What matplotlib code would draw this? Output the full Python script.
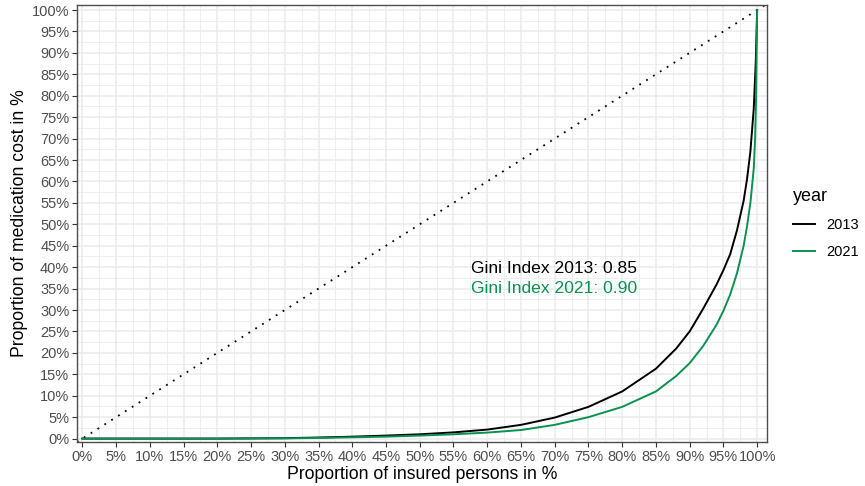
import matplotlib.pyplot as plt
from matplotlib.ticker import MultipleLocator, PercentFormatter

plt.rcParams['font.family'] = ['Liberation Sans', 'DejaVu Sans']

# Lorenz curves (% of insured persons vs % of cost)
share_2013 = [0, 10, 20, 30, 35, 40, 45, 50, 55, 60, 65, 70, 75, 80, 85, 88, 90,
              92, 94, 95, 96, 97, 98, 98.5, 99, 99.5, 99.8, 100]
cost_2013 = [0, 0, 0, 0.1, 0.25, 0.45, 0.7, 1.0, 1.45, 2.1, 3.2, 4.9, 7.4, 11.0, 16.3,
             21.0, 25.0, 30.3, 36.0, 39.3, 43.0, 48.5, 55.5, 60.5, 67.0, 77.0, 88.0, 100]

share_2021 = [0, 10, 20, 30, 35, 40, 45, 50, 55, 60, 65, 70, 75, 80, 85, 88, 90,
              92, 94, 95, 96, 97, 98, 98.5, 99, 99.5, 99.7, 99.85, 100]
cost_2021 = [0, 0, 0, 0.05, 0.15, 0.3, 0.45, 0.7, 1.0, 1.4, 2.0, 3.2, 5.0, 7.4, 11.0,
             14.6, 17.6, 21.6, 26.6, 29.8, 33.6, 38.5, 45.0, 49.5, 55.0, 63.0, 70.0,
             80.0, 100]

gini = {'2013': 0.85, '2021': 0.90}
green = '#0A9150'

fig = plt.figure(figsize=(8.65, 4.86), dpi=100)
ax = fig.add_axes([0.089, 0.0905, 0.798, 0.8995])

ax.axline((0, 0), slope=1, color='black', linestyle=(0, (1, 3.5)), linewidth=1.3)
ax.plot(share_2013, cost_2013, color='black', linewidth=1.4, label='2013')
ax.plot(share_2021, cost_2021, color=green, linewidth=1.4, label='2021')

ax.text(57.6, 39.7, f"Gini Index 2013: {gini['2013']:.2f}", color='black',
        fontsize=12.6, va='center', ha='left')
ax.text(57.6, 35.0, f"Gini Index 2021: {gini['2021']:.2f}", color=green,
        fontsize=12.6, va='center', ha='left')

ax.set_xlim(-0.8, 101.5)
ax.set_ylim(-0.8, 101.2)
for axis in (ax.xaxis, ax.yaxis):
    axis.set_major_locator(MultipleLocator(5))
    axis.set_minor_locator(MultipleLocator(2.5))
    axis.set_major_formatter(PercentFormatter(decimals=0))

ax.grid(which='major', color='#EBEBEB', linewidth=1.1)
ax.grid(which='minor', color='#EBEBEB', linewidth=0.6)
ax.set_axisbelow(True)
for s in ax.spines.values():
    s.set_color('#4D4D4D')
    s.set_linewidth(1.0)

ax.tick_params(which='major', length=3.5, color='#333333', labelsize=10.5,
               labelcolor='#4D4D4D', pad=2)
ax.tick_params(which='minor', length=0)

ax.set_xlabel('Proportion of insured persons in %', fontsize=12.7, labelpad=2)
ax.set_ylabel('Proportion of medication cost in %', fontsize=12.7, labelpad=3)

leg = ax.legend(title='year', loc='center left', bbox_to_anchor=(1.018, 0.5),
                frameon=False, fontsize=10.5, title_fontsize=13,
                handlelength=1.5, handletextpad=0.8, labelspacing=0.9)
leg._legend_box.align = 'left'

fig.savefig('out.png', dpi=100)
